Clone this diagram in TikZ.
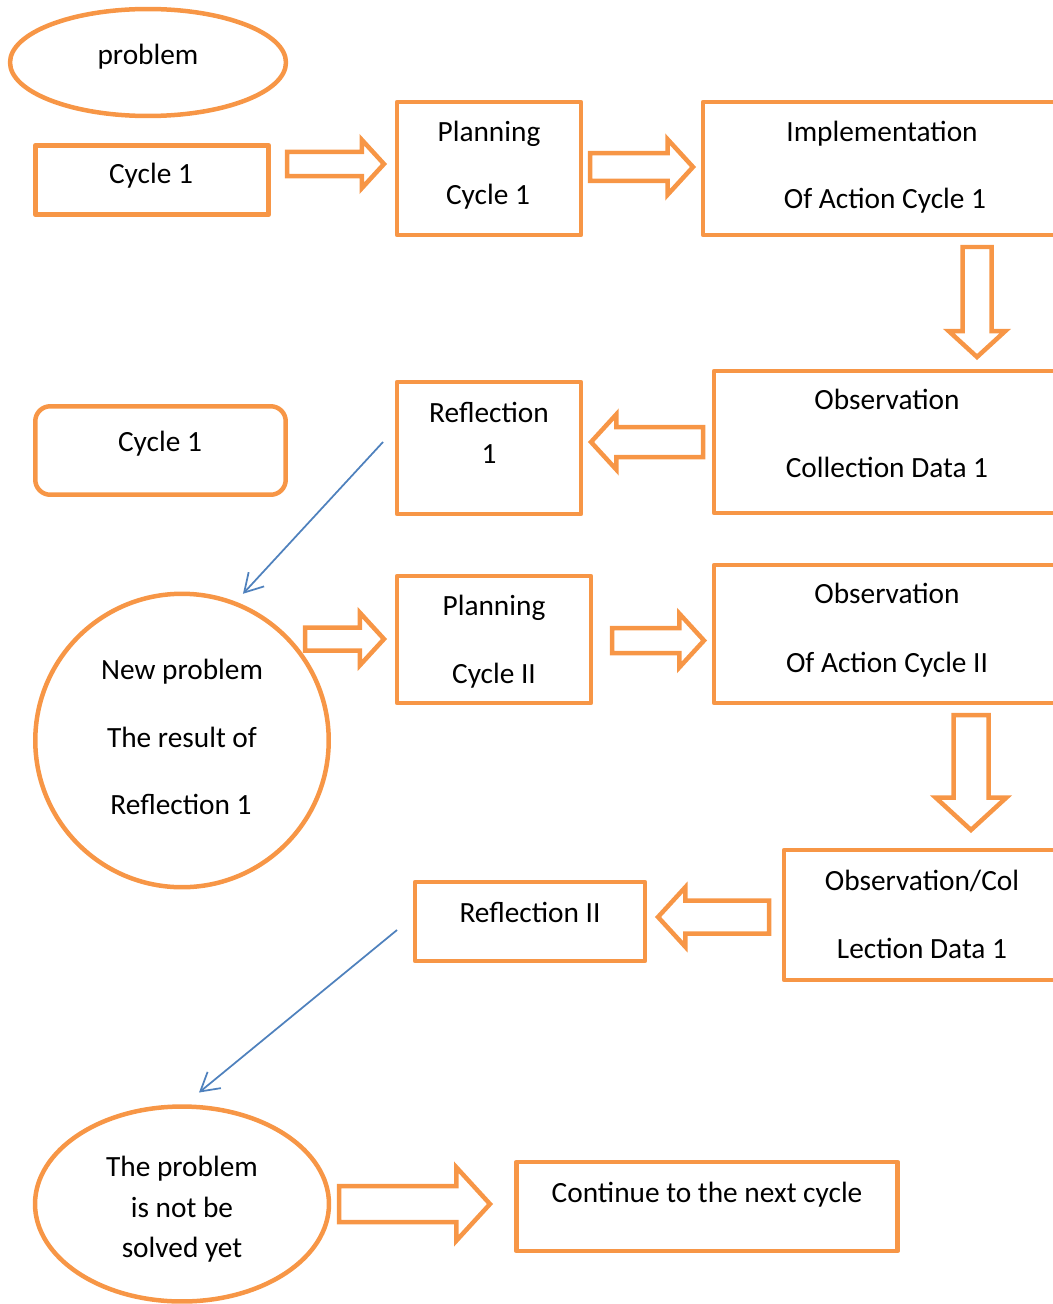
\documentclass[tikz,border=0pt]{standalone}
\usepackage{fontspec}
\setmainfont{Carlito}
\usepackage{xcolor}
\usepackage{tikz}
\usetikzlibrary{arrows.meta}
\usetikzlibrary{shapes,arrows,positioning}
\definecolor{orangeLine}{HTML}{F79646}
\definecolor{blueLine}{HTML}{4F81BD}
\tikzset{cycle-line/.style={line width=0.09cm, draw=orangeLine}}
\tikzset{cycle-box/.style={rectangle, cycle-line, inner sep=0, outer sep=0, line join=round}}
\tikzset{cycle-oval/.style={ellipse, cycle-line, inner sep=0, outer sep=0}}
\tikzset{cycle-text/.style={anchor=base, inner sep=0, font=\fontsize{16.7}{20}\selectfont}}
\tikzset{fat-arrow/.style={
        single arrow,
        cycle-line,
        minimum width=0,
        outer sep=0,
        single arrow tip angle=95,
        anchor=tail
    }
}
\tikzset{thin-arrow/.style={-{Straight Barb[length=0.36cm, width=0.42cm]}, draw=blueLine, line width=0.035cm}}
\newcommand{\fatarrow}[6] {
    \node[fat-arrow, shape border rotate=#3, minimum height=#4, inner sep=#5,
          single arrow head extend=#6] (#1) at (#2) {};
}

\begin{document}
\begin{tikzpicture}[x=0.02cm, y=-0.02cm]
    \path[use as bounding box, clip] (0,0) rectangle (1053,1304);

    \node[cycle-oval, minimum width=5.52cm, minimum height=2.14cm] (problem) at (148,62.5) {};
    \node[cycle-box, minimum width=4.67cm, minimum height=1.39cm] (cycle) at (152,180) {};
    \node[cycle-box, minimum width=3.68cm, minimum height=2.66cm] (plan) at (489,168.5) {};
    \node[cycle-box, minimum width=7.22cm, minimum height=2.66cm] (impl) at (883.5,168.5) {};
    \node[cycle-box, minimum width=6.92cm, minimum height=2.84cm] (obs) at (887,442) {};
    \node[cycle-box, minimum width=3.68cm, minimum height=2.64cm] (refl) at (489,448) {};
    \node[cycle-box, rounded corners=0.3cm, minimum width=5.01cm, minimum height=1.77cm] (cyclebox) at (160.5,450.5) {};
    \node[cycle-oval, circle, minimum size=5.87cm] (newprob) at (182,740.5) {};
    \node[cycle-box, minimum width=3.88cm, minimum height=2.54cm] (plantwo) at (494,639.5) {};
    \node[cycle-box, minimum width=6.92cm, minimum height=2.76cm] (obstwo) at (887,634) {};
    \node[cycle-box, minimum width=5.52cm, minimum height=2.6cm] (obscol) at (922,915) {};
    \node[cycle-box, minimum width=4.6cm, minimum height=1.58cm] (refltwo) at (530,921.5) {};
    \node[cycle-oval, minimum width=5.88cm, minimum height=3.9cm] (notsolved) at (182,1204) {};
    \node[cycle-box, minimum width=7.63cm, minimum height=1.78cm] (nextcycle) at (707,1206.5) {};

    \foreach \x/\y/\t/\n in {148/65/problem/tprob, 151/184/Cycle 1/tcycle,
            489/142/Planning/tplana, 488/205/Cycle 1/tplanb,
            882/142/Implementation/timpla, 885/209/Of Action Cycle 1/timplb,
            887/409/Observation/tobsa, 887/477/Collection Data 1/tobsb,
            489/422/Reflection/trefla, 489/463/1/treflb,
            160/451/Cycle 1/tcyclebox,
            182/679/New problem/tnewa, 182/747/The result of/tnewb, 181/814/Reflection 1/tnewc,
            494/615/Planning/tplantwoa, 494/683/Cycle II/tplantwob,
            887/603/Observation/tobstwoa, 887/672/Of Action Cycle II/tobstwob,
            922/890/{Observation/Col}/tobscola, 922/958/Lection Data 1/tobscolb,
            530/922/Reflection II/trefltwo,
            182/1176/The problem/tnota, 182/1217/is not be/tnotb, 182/1257/solved yet/tnotc,
            707/1202/Continue to the next cycle/tnext}
        \node[cycle-text] (\n) at (\x,\y) {\t};

    \fatarrow{arrowa}{287,164}{0}{1.94cm}{0.2cm}{0.24cm}
    \fatarrow{arrowb}{590,167}{0}{2.06cm}{0.235cm}{0.275cm}
    \fatarrow{arrowc}{977,247}{270}{2.2cm}{0.245cm}{0.275cm}
    \fatarrow{arrowd}{703,442}{180}{2.24cm}{0.255cm}{0.255cm}
    \fatarrow{arrowe}{305,639}{0}{1.58cm}{0.185cm}{0.295cm}
    \fatarrow{arrowf}{612,640.5}{0}{1.84cm}{0.205cm}{0.285cm}
    \fatarrow{arrowg}{971,715}{270}{2.3cm}{0.305cm}{0.355cm}
    \fatarrow{arrowh}{769,917}{180}{2.22cm}{0.285cm}{0.265cm}
    \fatarrow{arrowi}{339,1204}{0}{3.02cm}{0.315cm}{0.375cm}

    \draw[thin-arrow] ([xshift=-0.28cm, yshift=0.12cm]refl.west) -- ([xshift=1.22cm]newprob.north);
    \draw[thin-arrow] ([xshift=-0.36cm, yshift=-0.17cm]refltwo.west) -- ([xshift=0.34cm, yshift=0.28cm]notsolved.north);
\end{tikzpicture}
\end{document}
